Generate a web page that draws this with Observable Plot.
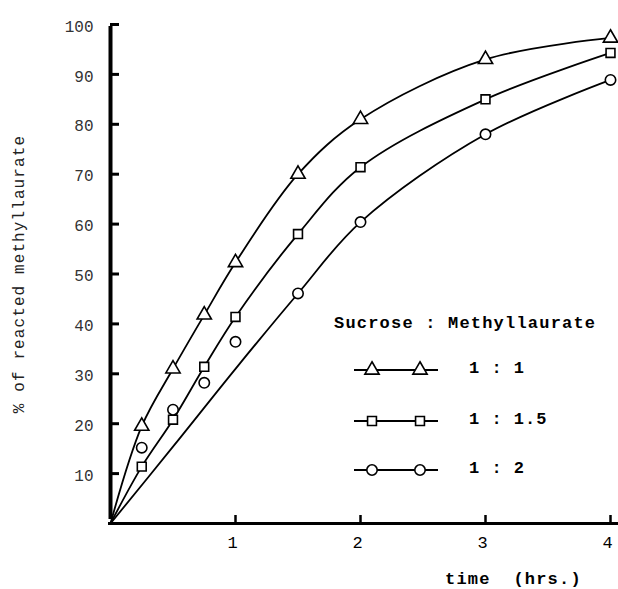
<!DOCTYPE html>
<html><head><meta charset="utf-8">
<script src="https://cdn.jsdelivr.net/npm/d3@7"></script>
<script src="https://cdn.jsdelivr.net/npm/@observablehq/plot@0.6"></script>
<style>
html,body{margin:0;padding:0;background:#fff;}
#wrap{position:relative;width:618px;height:589px;overflow:hidden;}
.mono{font-family:"Liberation Mono","DejaVu Sans Mono",monospace;color:#000;position:absolute;white-space:pre;}
</style>
</head><body>
<div id="wrap"></div>
<script>
// Data
const times = [0.25, 0.5, 0.75, 1, 1.5, 2, 3, 4];
const ratio1_1 = [19.5, 31, 41.8, 52.3, 70, 81, 93, 97.3];      // triangles
const ratio1_15 = [11.4, 20.8, 31.4, 41.4, 58, 71.4, 85, 94.3]; // squares
const ratio1_2 = [15.2, 22.8, 28.2, 36.4, 46.1, 60.4, 78, 88.9]; // circles
// hand-drawn fitted curves (knots)
const curveT_1_1 = [0, 0.25, 0.5, 0.75, 1, 1.5, 2, 3, 4];
const curveV_1_1 = [0, 19.5, 31, 41.8, 52.3, 70, 81, 93, 97.3];
const curveT_1_15 = [0, 0.25, 0.5, 0.75, 1, 1.5, 2, 3, 4];
const curveV_1_15 = [0, 11.4, 20.8, 31.4, 41.4, 58, 71.4, 85, 94.3];
const curveT_1_2 = [0, 0.5, 1, 1.5, 2, 3, 4];
const curveV_1_2 = [0, 15.4, 31, 46.1, 60.4, 78, 88.9];
const xTicks = [1, 2, 3, 4];
const yTicks = [10, 20, 30, 40, 50, 60, 70, 80, 90, 100];
const legendLabels = ["1 : 1", "1 : 1.5", "1 : 2"];
const series = [
  {name: legendLabels[0], symbol: "triangle", r: 5.3, vals: ratio1_1, ct: curveT_1_1, cv: curveV_1_1},
  {name: legendLabels[1], symbol: "square", r: 5, vals: ratio1_15, ct: curveT_1_15, cv: curveV_1_15},
  {name: legendLabels[2], symbol: "circle", r: 5.2, vals: ratio1_2, ct: curveT_1_2, cv: curveV_1_2}
];
const curves = series.flatMap(s => s.ct.map((t, i) => ({t, v: s.cv[i], s: s.name})));

const W = 618, H = 589, mL = 110, mR = 8, mT = 24, mB = 66;
const frameW = W - mL - mR, frameH = H - mT - mB;
const font = '"Liberation Mono","DejaVu Sans Mono",monospace';
const plot = Plot.plot({
  width: W, height: H,
  marginLeft: mL, marginRight: mR, marginTop: mT, marginBottom: mB,
  x: {domain: [0, 4], axis: null},
  y: {domain: [0, 100], axis: null},
  style: {fontFamily: font, background: "#fff"},
  marks: [
    Plot.line(curves, {x: "t", y: "v", z: "s", curve: "catmull-rom", stroke: "#000", strokeWidth: 1.8}),
    Plot.ruleX([0], {y1: 0, y2: 100, insetTop: -4, insetBottom: -2, stroke: "#000", strokeWidth: 4}),
    Plot.ruleY([0], {x1: 0, x2: 4, insetRight: -8, insetLeft: -2, stroke: "#000", strokeWidth: 3}),
    Plot.tickY(yTicks, {y: d => d, insetRight: frameW - 9, stroke: "#000", strokeWidth: 3}),
    Plot.tickX(xTicks, {x: d => d, insetTop: frameH - 8, stroke: "#000", strokeWidth: 2.5}),
    Plot.text(yTicks, {x: 0, y: d => d, text: d => String(d), textAnchor: "end", dx: -17, dy: 2, fontSize: 16, fill: "#333", style: {letterSpacing: "1.5px"}}),
    Plot.text(xTicks, {x: d => d, y: 0, text: d => String(d), dx: -3, dy: 19, fontSize: 17, fill: "#000"}),
    ...series.map(s => Plot.dot(s.vals, {x: (d, i) => times[i], y: d => d, symbol: s.symbol, r: s.r, fill: "#fff", stroke: "#000", strokeWidth: 1.6}))
  ]
});
const wrap = document.getElementById("wrap");
wrap.appendChild(plot);

// y-axis title
const yt = document.createElement("div");
yt.className = "mono";
yt.style.cssText += "left:-130px;top:264px;width:300px;height:20px;line-height:20px;text-align:center;font-size:16px;letter-spacing:1.1px;color:#222;transform:rotate(-90deg);transform-origin:150px 10px;";
yt.textContent = "% of reacted methyllaurate";
wrap.appendChild(yt);

// x-axis title
const xt = document.createElement("div");
xt.className = "mono";
xt.style.cssText += "left:445px;top:570px;font-size:17px;font-weight:bold;letter-spacing:1.2px;";
xt.textContent = "time  (hrs.)";
wrap.appendChild(xt);

// legend
const lt = document.createElement("div");
lt.className = "mono";
lt.style.cssText += "left:334px;top:314px;font-size:17px;letter-spacing:1.2px;font-weight:bold;";
lt.textContent = "Sucrose : Methyllaurate";
wrap.appendChild(lt);
const rowsY = [370, 421, 470];
series.forEach((s, i) => {
  const sym = d3.symbol(s.symbol === "triangle" ? d3.symbolTriangle : s.symbol === "square" ? d3.symbolSquare : d3.symbolCircle, Math.PI * s.r ** 2)();
  const svg = d3.create("svg").attr("width", 100).attr("height", 20)
    .style("position", "absolute").style("left", "350px").style("top", (rowsY[i] - 10) + "px");
  svg.append("line").attr("x1", 4).attr("x2", 88).attr("y1", 10).attr("y2", 10).attr("stroke", "#000").attr("stroke-width", 1.8);
  [22, 70].forEach(cx => svg.append("path").attr("d", sym).attr("transform", `translate(${cx},10)`)
    .attr("fill", "#fff").attr("stroke", "#000").attr("stroke-width", 1.6));
  wrap.appendChild(svg.node());
  const lab = document.createElement("div");
  lab.className = "mono";
  lab.style.cssText += `left:469px;top:${rowsY[i] - 11}px;font-size:17px;letter-spacing:1px;font-weight:bold;`;
  lab.textContent = s.name;
  wrap.appendChild(lab);
});
</script>
</body></html>
